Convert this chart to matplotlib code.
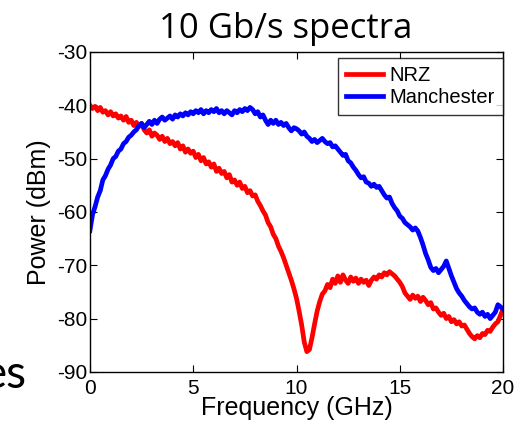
import matplotlib
matplotlib.use("Agg")
import matplotlib.pyplot as plt
import numpy as np

# frequency grid (GHz), 0.125 GHz steps; one row of values per GHz
freq = np.arange(0, 20.001, 0.125)

nrz = [-40.0, -40.6, -40.2, -41.0, -40.4, -41.3, -41.0, -41.8,
       -41.2, -42.0, -41.6, -42.4, -42.0, -42.8, -42.1, -43.2,
       -42.8, -43.8, -43.2, -44.0, -43.4, -44.6, -45.2, -44.6,
       -45.8, -45.2, -45.6, -46.4, -45.8, -46.8, -46.2, -47.2,
       -46.8, -47.6, -47.0, -48.2, -47.6, -48.8, -48.2, -49.0,
       -48.6, -49.8, -49.2, -50.4, -49.8, -51.0, -50.6, -51.6,
       -51.0, -52.4, -51.8, -52.8, -52.4, -53.6, -53.0, -54.4,
       -54.0, -55.0, -54.4, -55.6, -55.2, -56.4, -56.0, -57.0,
       -56.8, -58.0, -58.8, -59.8, -60.6, -62.0, -62.8, -64.2,
       -65.0, -66.4, -67.4, -68.6, -70.0, -71.4, -72.8, -74.4,
       -76.2, -78.6, -81.2, -84.4, -86.2, -85.8, -83.6, -81.0,
       -78.6, -76.8, -75.4, -74.8, -73.6, -74.2, -72.6, -73.4,
       -72.0, -73.2, -71.8, -72.8, -73.4, -72.2, -73.0, -72.4,
       -73.4, -72.6, -73.2, -72.8, -73.8, -72.8, -72.2, -72.6,
       -71.8, -72.2, -71.4, -71.8, -71.2, -71.6, -72.0, -72.6,
       -73.2, -74.0, -75.2, -75.8, -76.4, -75.6, -76.2, -75.8,
       -76.8, -76.0, -76.6, -77.4, -77.0, -78.2, -78.0, -78.8,
       -79.4, -79.0, -80.0, -79.6, -80.6, -80.2, -81.0, -80.6,
       -81.4, -81.2, -82.0, -82.8, -83.4, -83.8, -83.2, -83.6,
       -82.8, -83.0, -82.2, -82.4, -81.6, -81.0, -80.6, -79.4,
       -78.2]

manchester = [-63.5, -60.5, -59.0, -57.2, -56.0, -54.0, -53.2, -52.0,
              -51.2, -50.0, -49.6, -48.6, -48.2, -47.2, -46.8, -46.0,
              -45.6, -45.0, -44.6, -43.8, -43.4, -44.2, -43.6, -43.0,
              -43.6, -42.8, -43.4, -42.6, -42.2, -42.8, -42.4, -42.0,
              -42.6, -41.8, -42.2, -41.6, -42.0, -41.4, -41.8, -41.2,
              -41.6, -41.0, -41.4, -40.8, -41.6, -41.0, -41.4, -40.8,
              -41.2, -40.6, -41.4, -41.0, -41.6, -41.0, -41.4, -41.8,
              -41.0, -41.4, -40.8, -41.2, -40.6, -41.0, -40.4, -40.8,
              -41.6, -41.2, -42.2, -41.8, -42.8, -43.6, -42.8, -43.4,
              -42.8, -43.6, -43.2, -43.8, -43.4, -44.2, -44.8, -44.2,
              -44.4, -44.8, -45.4, -45.0, -45.8, -46.2, -46.8, -46.4,
              -47.0, -46.6, -46.2, -46.8, -47.2, -47.0, -47.8, -47.6,
              -48.2, -48.8, -49.4, -49.2, -50.4, -50.8, -51.6, -52.2,
              -53.0, -53.6, -53.4, -54.4, -54.6, -55.2, -54.8, -55.4,
              -55.2, -56.0, -56.8, -57.4, -57.2, -58.4, -59.2, -59.8,
              -60.8, -61.2, -62.0, -62.4, -62.8, -63.4, -63.0, -63.6,
              -64.8, -66.2, -67.8, -69.0, -70.4, -71.0, -70.6, -71.4,
              -70.8, -70.2, -69.2, -70.6, -72.0, -73.2, -74.4, -75.2,
              -75.8, -76.6, -77.2, -77.8, -78.2, -78.0, -78.8, -79.2,
              -78.8, -79.6, -79.2, -80.0, -79.4, -78.8, -77.4, -77.8,
              -78.2]

plt.rcParams['font.family'] = ['Liberation Sans', 'DejaVu Sans']
plt.rcParams['axes.unicode_minus'] = False

fig = plt.figure(figsize=(5.29, 4.26), dpi=100)
ax = fig.add_axes([0.170, 0.127, 0.781, 0.751])

ax.plot(freq, nrz, color='#ff0000', lw=3.4, label='NRZ')
ax.plot(freq, manchester, color='#0000ff', lw=3.4, label='Manchester')

ax.set_xlim(0, 20)
ax.set_ylim(-90, -30)
ax.set_xticks([0, 5, 10, 15, 20])
ax.set_yticks([-90, -80, -70, -60, -50, -40, -30])
ax.tick_params(direction='in', top=True, right=True, length=5, width=0.8,
               labelsize=15)
ax.tick_params(axis='x', pad=5)
ax.tick_params(axis='y', pad=2)
ax.set_xlabel('Frequency (GHz)', fontsize=18, labelpad=-1)
ax.set_ylabel('Power (dBm)', fontsize=18, labelpad=4)
for s in ax.spines.values():
    s.set_linewidth(1.0)

leg = ax.legend(loc='upper right', bbox_to_anchor=(1.0, 1 - 6 / 320),
                fontsize=14.5, frameon=True, fancybox=False, borderaxespad=0,
                handlelength=1.8, handletextpad=0.35, borderpad=0.4,
                labelspacing=0.15)
leg.get_frame().set_edgecolor('black')
leg.get_frame().set_linewidth(1.0)

fig.text(0.54, 0.933, '10 Gb/s spectra', ha='center', va='center',
         fontsize=25, family='Open Sans')
# fragment of slide text at bottom left
fig.text(0.049, 0.089, 'es', ha='right', va='baseline', fontsize=33,
         family='Lato')

fig.savefig('out.png', dpi=100)
